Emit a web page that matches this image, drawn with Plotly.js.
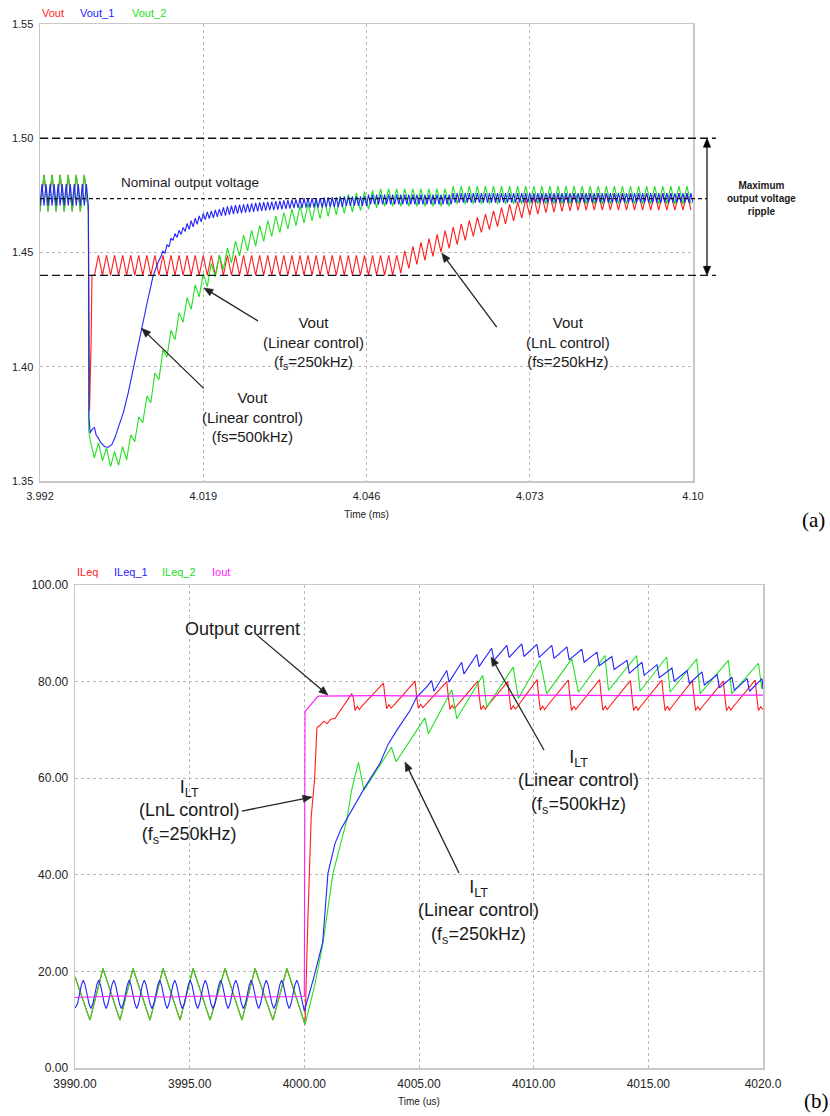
<!DOCTYPE html>
<html>
<head>
<meta charset="utf-8">
<script src="https://cdn.plot.ly/plotly-3.0.1.min.js"></script>
<style>
html,body{margin:0;padding:0;background:#ffffff;}
#chart{width:830px;height:1116px;}
</style>
</head>
<body>
<div id="chart"></div>
<script>
// ===================== (a) Output voltage (times in microseconds, axis shown in ms) =====================
const seriesTop = ['Vout', 'Vout_1', 'Vout_2'];
const xTicksTop = [3.992, 4.019, 4.046, 4.073, 4.10];
const xTickTextTop = ['3.992', '4.019', '4.046', '4.073', '4.10'];
const yTicksTop = [1.35, 1.40, 1.45, 1.50, 1.55];
const yTickTextTop = ['1.35', '1.40', '1.45', '1.50', '1.55'];
const vRippleMax = 1.50, vRippleMin = 1.44, vNominal = 1.4736;

// 250 kHz-control output before the load step (Vout_2; Vout lies underneath it)
const tPre250 = [3992.00,3992.67,3993.33,3994.00,3994.67,3995.33,3996.00,3996.67,3997.33,3998.00,3998.67,3999.33,4000.00];
const vPre250 = [1.468,1.484,1.468,1.484,1.468,1.484,1.468,1.484,1.468,1.484,1.468,1.484,1.468];

// switching instants after the step (shared by Vout and Vout_2)
const tSw = [4000.33,4001,4001.67,4002.33,4003,4003.67,4004.33,4005,4005.67,4006.33,4007,4007.67,4008.33,4009,4009.67,4010.33,4011,4011.67,4012.33,4013,4013.67,4014.33,4015,4015.67,4016.33,4017,4017.67,4018.33,4019,4019.67,
4020.33,4021,4021.67,4022.33,4023,4023.67,4024.33,4025,4025.67,4026.33,4027,4027.67,4028.33,4029,4029.67,4030.33,4031,4031.67,4032.33,4033,4033.67,4034.33,4035,4035.67,4036.33,4037,4037.67,4038.33,4039,4039.67,
4040.33,4041,4041.67,4042.33,4043,4043.67,4044.33,4045,4045.67,4046.33,4047,4047.67,4048.33,4049,4049.67,4050.33,4051,4051.67,4052.33,4053,4053.67,4054.33,4055,4055.67,4056.33,4057,4057.67,4058.33,4059,4059.67,
4060.33,4061,4061.67,4062.33,4063,4063.67,4064.33,4065,4065.67,4066.33,4067,4067.67,4068.33,4069,4069.67,4070.33,4071,4071.67,4072.33,4073,4073.67,4074.33,4075,4075.67,4076.33,4077,4077.67,4078.33,4079,4079.67,
4080.33,4081,4081.67,4082.33,4083,4083.67,4084.33,4085,4085.67,4086.33,4087,4087.67,4088.33,4089,4089.67,4090.33,4091,4091.67,4092.33,4093,4093.67,4094.33,4095,4095.67,4096.33,4097,4097.67,4098.33,4099,4099.67];

// Vout_2 (Linear control, fs=250kHz)
const tGrnStep = [4000.05];
const vGrnStep = [1.372];
const vGrnPost = [
1.3675,1.3601,1.3667,1.3588,1.3645,1.3563,1.3629,1.3569,1.3650,1.3592,
1.3702,1.3672,1.3781,1.3755,1.3872,1.3843,1.3973,1.3943,1.4073,1.4042,
1.4160,1.4118,1.4237,1.4195,1.4303,1.4251,1.4359,1.4306,1.4409,1.4351,
1.4452,1.4394,1.4490,1.4425,1.4520,1.4455,1.4550,1.4485,1.4576,1.4507,
1.4597,1.4528,1.4619,1.4549,1.4640,1.4571,1.4660,1.4587,1.4675,1.4603,
1.4690,1.4618,1.4705,1.4630,1.4714,1.4639,1.4724,1.4648,1.4733,1.4658,
1.4742,1.4665,1.4748,1.4671,1.4754,1.4677,1.4760,1.4683,1.4766,1.4689,
1.4772,1.4695,
1.4780,1.4702,1.4780,1.4702,1.4780,1.4702,1.4780,1.4702,1.4780,1.4702,
1.4780,1.4702,1.4780,1.4702,1.4780,1.4702,1.4780,1.4702,
1.4790,1.4712,1.4790,1.4712,1.4790,1.4712,1.4790,1.4712,1.4790,1.4712,
1.4790,1.4712,1.4790,1.4712,1.4790,1.4712,1.4790,1.4712,1.4790,1.4712,
1.4790,1.4712,1.4790,1.4712,1.4790,1.4712,1.4790,1.4712,1.4790,1.4712,
1.4790,1.4712,1.4790,1.4712,1.4790,1.4712,1.4790,1.4712,1.4790,1.4712,
1.4790,1.4712,1.4790,1.4712,1.4790,1.4712,1.4790,1.4712,1.4790,1.4712,
1.4790,1.4712,1.4790,1.4712,1.4790,1.4712,1.4790,1.4712,1.4790,1.4712];

// Vout (LnL control, fs=250kHz): step transient then ripple on tSw[1..]
const tRedStep = [4000.20,4000.35,4000.45,4000.60];
const vRedStep = [1.381,1.400,1.410,1.440];
const vRedPost = [
1.4400,1.4488,1.4400,1.4488,1.4400,1.4488,1.4400,1.4488,1.4400,1.4488,
1.4400,1.4488,1.4400,1.4488,1.4400,1.4488,1.4400,1.4488,1.4400,1.4488,
1.4400,1.4488,1.4400,1.4488,1.4400,1.4488,1.4400,1.4488,1.4400,1.4488,
1.4400,1.4488,1.4400,1.4488,1.4400,1.4488,1.4400,1.4488,1.4400,1.4488,
1.4400,1.4488,1.4400,1.4488,1.4400,1.4488,1.4400,1.4488,1.4400,1.4488,
1.4400,1.4488,1.4400,1.4488,1.4400,1.4488,1.4400,1.4488,1.4400,1.4488,
1.4400,1.4488,1.4400,1.4488,1.4400,1.4488,1.4400,1.4488,1.4400,1.4488,
1.4400,1.4488,1.4400,1.4488,1.4400,1.4488,
1.4410,1.4507,1.4430,1.4527,1.4448,1.4544,1.4466,1.4561,1.4483,1.4579,
1.4501,1.4596,1.4518,1.4611,1.4536,1.4625,1.4553,1.4640,1.4571,1.4654,
1.4588,1.4668,1.4600,1.4682,1.4613,1.4696,1.4625,1.4711,1.4638,1.4723,
1.4650,1.4734,1.4662,1.4743,1.4668,1.4749,1.4675,1.4753,1.4677,1.4755,
1.4680,1.4757,1.4682,1.4759,1.4684,
1.4760,1.4685,1.4760,1.4685,1.4760,1.4685,1.4760,1.4685,1.4760,1.4685,
1.4760,1.4685,1.4760,1.4685,1.4760,1.4685,1.4760,1.4685,1.4760,1.4685,
1.4760,1.4685,1.4760,1.4685,1.4760,1.4685,1.4760,1.4685];

// Vout_1 (Linear control, fs=500kHz)
const tPre500 = [3992,3992.33,3992.67,3993,3993.33,3993.67,3994,3994.33,3994.67,3995,3995.33,3995.67,3996,3996.33,3996.67,3997,3997.33,3997.67,3998,3998.33,3998.67,3999,3999.33,3999.67,4000];
const vPre500 = [1.4705,1.4800,1.4705,1.4800,1.4705,1.4800,1.4705,1.4800,1.4705,1.4800,1.4705,1.4800,1.4705,1.4800,1.4705,1.4800,1.4705,1.4800,1.4705,1.4800,1.4705,1.4800,1.4705,1.4800,1.4705];
const tBluStep = [4000.10,4000.30,4000.60,4001.00,4001.30,4001.60,4002.00,4002.70,4003.30,4003.90,4004.40,4004.90,4005.30,4005.80,4006.60,4007.70,4008.80,4009.80,4010.70,4011.50,4012.00];
const vBluStep = [1.3780,1.3710,1.3725,1.3735,1.3700,1.3690,1.3670,1.3650,1.3648,1.3660,1.3690,1.3730,1.3760,1.3800,1.3887,1.4030,1.4171,1.4290,1.4396,1.4455,1.4482];
const tBluPost = [
4012.33,4012.67,4013,4013.33,4013.67,4014,4014.33,4014.67,4015,4015.33,4015.67,4016,4016.33,4016.67,4017,4017.33,4017.67,4018,4018.33,4018.67,4019,4019.33,4019.67,4020,
4020.33,4020.67,4021,4021.33,4021.67,4022,4022.33,4022.67,4023,4023.33,4023.67,4024,4024.33,4024.67,4025,4025.33,4025.67,4026,4026.33,4026.67,4027,4027.33,4027.67,4028,
4028.33,4028.67,4029,4029.33,4029.67,4030,4030.33,4030.67,4031,4031.33,4031.67,4032,4032.33,4032.67,4033,4033.33,4033.67,4034,4034.33,4034.67,4035,4035.33,4035.67,4036,
4036.33,4036.67,4037,4037.33,4037.67,4038,4038.33,4038.67,4039,4039.33,4039.67,4040,4040.33,4040.67,4041,4041.33,4041.67,4042,4042.33,4042.67,4043,4043.33,4043.67,4044,
4044.33,4044.67,4045,4045.33,4045.67,4046,4046.33,4046.67,4047,4047.33,4047.67,4048,4048.33,4048.67,4049,4049.33,4049.67,4050,4050.33,4050.67,4051,4051.33,4051.67,4052,
4052.33,4052.67,4053,4053.33,4053.67,4054,4054.33,4054.67,4055,4055.33,4055.67,4056,4056.33,4056.67,4057,4057.33,4057.67,4058,4058.33,4058.67,4059,4059.33,4059.67,4060,
4060.33,4060.67,4061,4061.33,4061.67,4062,4062.33,4062.67,4063,4063.33,4063.67,4064,4064.33,4064.67,4065,4065.33,4065.67,4066,4066.33,4066.67,4067,4067.33,4067.67,4068,
4068.33,4068.67,4069,4069.33,4069.67,4070,4070.33,4070.67,4071,4071.33,4071.67,4072,4072.33,4072.67,4073,4073.33,4073.67,4074,4074.33,4074.67,4075,4075.33,4075.67,4076,
4076.33,4076.67,4077,4077.33,4077.67,4078,4078.33,4078.67,4079,4079.33,4079.67,4080,4080.33,4080.67,4081,4081.33,4081.67,4082,4082.33,4082.67,4083,4083.33,4083.67,4084,
4084.33,4084.67,4085,4085.33,4085.67,4086,4086.33,4086.67,4087,4087.33,4087.67,4088,4088.33,4088.67,4089,4089.33,4089.67,4090,4090.33,4090.67,4091,4091.33,4091.67,4092,
4092.33,4092.67,4093,4093.33,4093.67,4094,4094.33,4094.67,4095,4095.33,4095.67,4096,4096.33,4096.67,4097,4097.33,4097.67,4098,4098.33,4098.67,4099,4099.33,4099.67,4100];
const vBluPost = [
1.4506,1.4496,1.4534,1.4525,1.4563,1.4553,1.4583,1.4566,1.4597,1.4579,
1.4610,1.4592,1.4627,1.4601,1.4639,1.4612,1.4650,1.4623,1.4660,1.4634,
1.4671,1.4644,1.4678,1.4648,1.4682,1.4652,1.4686,1.4656,1.4690,1.4660,
1.4697,1.4661,1.4702,1.4666,1.4705,1.4668,1.4707,1.4670,1.4709,1.4672,
1.4711,1.4674,1.4713,1.4676,1.4715,1.4678,1.4717,1.4680,1.4719,1.4682,
1.4720,1.4683,1.4722,1.4685,1.4723,1.4686,1.4725,1.4688,1.4726,1.4689,
1.4728,1.4691,1.4729,1.4692,1.4731,1.4694,1.4732,1.4695,1.4736,
1.4694,
1.4738,1.4696,1.4738,1.4696,1.4738,1.4696,1.4738,1.4696,1.4738,1.4696,
1.4741,1.4699,1.4741,1.4699,1.4741,1.4699,1.4741,1.4699,1.4741,1.4699,
1.4746,1.4704,1.4746,1.4704,1.4746,1.4704,1.4746,1.4704,1.4746,1.4704,1.4746,1.4704,
1.4753,1.4711,1.4753,1.4711,1.4753,1.4711,1.4753,1.4711,1.4753,1.4711,
1.4753,1.4711,1.4753,1.4711,1.4753,1.4711,1.4753,1.4711,1.4753,1.4711,
1.4753,1.4711,1.4753,1.4711,1.4753,1.4711,1.4753,1.4711,1.4753,1.4711,
1.4753,1.4711,1.4753,1.4711,1.4753,1.4711,1.4753,1.4711,1.4753,1.4711,
1.4753,1.4711,
1.4760,1.4718,1.4760,1.4718,1.4760,1.4718,1.4760,1.4718,1.4760,1.4718,
1.4760,1.4718,1.4760,1.4718,1.4760,1.4718,1.4760,1.4718,1.4760,1.4718,
1.4760,1.4718,1.4760,1.4718,1.4760,1.4718,1.4760,1.4718,1.4760,1.4718,
1.4760,1.4718,1.4760,1.4718,1.4760,1.4718,1.4760,1.4718,1.4760,1.4718,
1.4760,1.4718,1.4760,1.4718,1.4760,1.4718,1.4760,1.4718,1.4760,1.4718,
1.4760,1.4718,1.4760,1.4718,1.4760,1.4718,1.4760,1.4718,1.4760,1.4718,
1.4760,1.4718,1.4760,1.4718,1.4760,1.4718,1.4760,1.4718,1.4760,1.4718,
1.4760,1.4718,1.4760,1.4718,1.4760,1.4718,1.4760,1.4718,1.4760,1.4718,
1.4760,1.4718,1.4760,1.4718,1.4760,1.4718,1.4760,1.4718,1.4760,1.4718,
1.4760,1.4718,1.4760,1.4718,1.4760,1.4718,1.4760,1.4718,1.4760,1.4718,
1.4760,1.4718,1.4760,1.4718,1.4760,1.4718,1.4760,1.4718,1.4760,1.4718,
1.4760,1.4718,1.4760,1.4718,1.4760,1.4718,1.4760,1.4718,1.4760,1.4718];

// ===================== (b) Inductor / output current (times in microseconds) =====================
const seriesBot = ['ILeq', 'ILeq_1', 'ILeq_2', 'Iout'];
const xTicksBot = [3990, 3995, 4000, 4005, 4010, 4015, 4020];
const xTickTextBot = ['3990.00', '3995.00', '4000.00', '4005.00', '4010.00', '4015.00', '4020.0'];
const yTicksBot = [0, 20, 40, 60, 80, 100];
const yTickTextBot = ['0.00', '20.00', '40.00', '60.00', '80.00', '100.00'];

// 250 kHz inductor current before the step (ILeq_2; ILeq lies underneath it)
const tPreB250 = [3990.00,3990.65,3991.22,3991.96,3992.53,3993.27,3993.84,3994.58,3995.15,3995.89,3996.54,3997.28,3997.85,3998.63,3999.24,4000.03];
const iPreB250 = [18.9,9.9,20.6,9.9,20.6,9.9,20.6,9.9,20.6,9.9,20.6,9.9,20.6,9.9,20.6,9.0];

// ILeq_2 (Linear control, fs=250kHz)
const tGrnB = [4000.45,4000.80,4001.25,4001.85,4002.06,4002.36,4002.60,4003.80,4004.00,4005.26,4005.41,4006.43,4006.65,4007.78,4007.95,4009.11,4009.33,4010.28,4010.57,4011.66,4011.95,4013.11,4013.26,4014.49,4014.64,4015.80,4015.95,4017.11,4017.26,4018.49,4018.64,4019.80,4019.95,4020.00];
const iGrnB = [17.0,25.5,40.3,51.3,57.5,63.3,57.5,66.4,63.4,72.5,69.2,78.3,72.3,81.3,74.7,83.0,76.5,84.4,77.5,84.7,77.8,85.4,78.2,85.4,78.0,85.1,77.8,84.7,77.5,84.4,77.5,83.8,78.5,78.7];

// ILeq_1 (Linear control, fs=500kHz)
const tBluBPre = [3990.00,
3990.11,3990.28,3990.36,3990.44,3990.61,3990.69,
3990.78,3990.95,3991.03,3991.11,3991.28,3991.36,
3991.44,3991.61,3991.69,3991.77,3991.94,3992.02,
3992.11,3992.28,3992.36,3992.44,3992.61,3992.69,
3992.77,3992.94,3993.02,3993.10,3993.27,3993.35,
3993.44,3993.61,3993.69,3993.77,3993.94,3994.02,
3994.10,3994.27,3994.35,3994.43,3994.60,3994.68,
3994.77,3994.94,3995.02,3995.10,3995.27,3995.35,
3995.43,3995.60,3995.68,3995.76,3995.93,3996.01,
3996.10,3996.27,3996.35,3996.43,3996.60,3996.68,
3996.76,3996.93,3997.01,3997.09,3997.26,3997.34,
3997.43,3997.60,3997.68,3997.76,3997.93,3998.01,
3998.09,3998.26,3998.34,3998.42,3998.59,3998.67,
3998.76,3998.93,3999.01,3999.09,3999.26,3999.34,
3999.42,3999.59,3999.67,3999.75,3999.92,4000.00];
const iBluBPre = [12.4,
13.3,17.2,18.2,17.2,13.3,12.3,
13.3,17.2,18.2,17.2,13.3,12.3,
13.3,17.2,18.2,17.2,13.3,12.3,
13.3,17.2,18.2,17.2,13.3,12.3,
13.3,17.2,18.2,17.2,13.3,12.3,
13.3,17.2,18.2,17.2,13.3,12.3,
13.3,17.2,18.2,17.2,13.3,12.3,
13.3,17.2,18.2,17.2,13.3,12.3,
13.3,17.2,18.2,17.2,13.3,12.3,
13.3,17.2,18.2,17.2,13.3,12.3,
13.3,17.2,18.2,17.2,13.3,12.3,
13.3,17.2,18.2,17.2,13.3,12.3,
13.3,17.2,18.2,17.2,13.3,12.3,
13.3,17.2,18.2,17.2,13.3,12.3,
13.3,17.2,18.2,17.2,13.3,11.8];
const tBluBStep = [4000.40,4000.80,4001.03,4001.34,4001.60,4002.08,4002.65,4003.30,4003.65,4004.03,4004.61,4004.90,4005.34];
const iBluBStep = [18.5,26.0,40.3,46.5,49.5,53.4,58.2,63.1,67.0,69.9,74.0,76.8,78.9];
const tBluBTeeth = [4005.55,4005.65,4006.21,4006.31,4006.86,4006.96,4007.52,4007.62,4008.17,4008.27,4008.83,4008.93,4009.48,4009.58,4010.14,4010.24,4010.79,4010.89,4011.45,4011.55,4012.10,4012.20,4012.76,4012.86,4013.41,4013.51,4014.07,4014.17,4014.72,4014.82,4015.38,4015.48,4016.03,4016.13,4016.69,4016.79,4017.34,4017.44,4018.00,4018.10,4018.65,4018.75,4019.31,4019.41,4019.96,4020.00];
const iBluBTeeth = [80.2,78.0,82.3,79.9,84.0,81.6,85.6,83.1,86.9,84.4,87.5,85.0,87.8,85.2,87.7,85.0,87.5,84.8,87.2,84.5,86.7,84.0,86.1,83.3,85.2,82.5,84.4,81.7,84.0,81.3,83.5,80.8,82.8,80.1,82.3,79.6,82.0,79.3,81.4,78.7,80.9,78.2,80.6,78.0,80.6,78.5];

// ILeq (LnL control, fs=250kHz)
const tRedBStep = [4000.15,4000.30,4000.45,4000.55,4000.70,4000.85,4001.00,4001.15,4001.34];
const iRedBStep = [30.0,52.0,60.0,70.5,71.0,71.8,71.3,72.2,72.4];
const tRedBCyc = [
4002.07,4002.14,4002.21,4002.31,4002.40,4002.52,
4003.45,4003.52,4003.59,4003.69,4003.78,4003.90,
4004.83,4004.90,4004.97,4005.07,4005.16,4005.28,
4006.21,4006.28,4006.35,4006.45,4006.54,4006.66,
4007.56,4007.63,4007.70,4007.80,4007.89,4008.01,
4008.87,4008.94,4009.01,4009.11,4009.20,4009.32,
4010.15,4010.22,4010.29,4010.39,4010.48,4010.60,
4011.51,4011.58,4011.65,4011.75,4011.84,4011.96,
4012.88,4012.95,4013.02,4013.12,4013.21,4013.33,
4014.22,4014.29,4014.36,4014.46,4014.55,4014.67,
4015.59,4015.66,4015.73,4015.83,4015.92,4016.04,
4016.92,4016.99,4017.06,4017.16,4017.25,4017.37,
4018.27,4018.34,4018.41,4018.51,4018.60,4018.72,
4019.66,4019.73,4019.80,4019.90,4020.00];
const iRedBCyc = [
77.5,76.6,74.0,74.9,74.2,75.0,
79.7,76.8,74.4,75.2,74.5,75.1,
80.1,76.8,74.5,75.3,74.6,75.2,
80.0,76.8,74.3,75.1,74.4,75.1,
80.1,76.8,74.2,75.0,74.3,75.1,
80.0,76.8,74.2,75.0,74.3,75.0,
80.4,76.9,74.1,74.9,74.2,75.0,
80.3,76.8,74.0,74.9,74.2,75.0,
80.4,76.8,74.1,74.9,74.2,75.0,
80.2,76.8,74.0,74.9,74.1,74.9,
80.3,76.8,74.0,74.9,74.1,74.9,
80.2,76.8,74.0,74.8,74.1,74.9,
80.1,76.8,74.0,74.8,74.1,74.9,
80.3,76.8,74.0,74.8,74.2];

// Iout (load current step)
const tOut = [3990.00,3992.00,3994.00,3996.00,3998.00,4000.00,4000.03,4000.60,4003.00,4006.00,4010.00,4014.00,4020.00];
const iOut = [14.6,14.9,14.7,14.9,14.7,14.8,73.8,77.0,77.1,77.0,77.2,77.1,77.2];

// callout arrow targets (data coordinates) and tail offsets (pixels)
const arrowsTop = [
  {t: 4.01912, v: 1.4345, dx: 54, dy: 33},
  {t: 4.00882, v: 1.4168, dx: 62, dy: 60},
  {t: 4.05844, v: 1.4497, dx: 55, dy: 74}
];
const arrowsBot = [
  {t: 4001.03, v: 77.2, dx: -71, dy: -60},
  {t: 4000.33, v: 56.1, dx: -70, dy: 14},
  {t: 4008.14, v: 85.1, dx: 53, dy: 93},
  {t: 4004.39, v: 63.35, dx: 54, dy: 111}
];

// ===================== styling / layout =====================
const FONT = 'Liberation Sans, Arial, Helvetica, sans-serif';
const SERIF = 'Liberation Serif, Times New Roman, serif';
const RED = '#ff1c1c', BLUE = '#2323ff', GREEN = '#22e022', MAG = '#ff1cff';
const W = 830, H = 1116;
const PX = x => x / W, PY = y => 1 - y / H;
const TOP = {x0: 40, x1: 693, y0: 24, y1: 481, xmin: 3.992, xmax: 4.10, ymin: 1.35, ymax: 1.55};
const BOT = {x0: 75, x1: 763, y0: 585, y1: 1068, xmin: 3990, xmax: 4020, ymin: 0, ymax: 100};
const ms = a => a.map(t => t / 1000);
const xPix = (P, t) => P.x0 + (t - P.xmin) / (P.xmax - P.xmin) * (P.x1 - P.x0);
const yPix = (P, v) => P.y0 + (P.ymax - v) / (P.ymax - P.ymin) * (P.y1 - P.y0);

const ln = c => ({color: c, width: 1.1});
const traces = [
  {name: seriesTop[0], x: ms([...tPre250, ...tRedStep, ...tSw.slice(1)]), y: [...vPre250, ...vRedStep, ...vRedPost], xaxis: 'x', yaxis: 'y', mode: 'lines', line: ln(RED)},
  {name: seriesTop[2], x: ms([...tPre250, ...tGrnStep, ...tSw]), y: [...vPre250, ...vGrnStep, ...vGrnPost], xaxis: 'x', yaxis: 'y', mode: 'lines', line: ln(GREEN)},
  {name: seriesTop[1], x: ms([...tPre500, ...tBluStep, ...tBluPost]), y: [...vPre500, ...vBluStep, ...vBluPost], xaxis: 'x', yaxis: 'y', mode: 'lines', line: ln(BLUE)},
  {name: seriesBot[0], x: [...tPreB250, ...tRedBStep, ...tRedBCyc], y: [...iPreB250, ...iRedBStep, ...iRedBCyc], xaxis: 'x2', yaxis: 'y2', mode: 'lines', line: ln(RED)},
  {name: seriesBot[2], x: [...tPreB250, ...tGrnB], y: [...iPreB250, ...iGrnB], xaxis: 'x2', yaxis: 'y2', mode: 'lines', line: ln(GREEN)},
  {name: seriesBot[1], x: [...tBluBPre, ...tBluBStep, ...tBluBTeeth], y: [...iBluBPre, ...iBluBStep, ...iBluBTeeth], xaxis: 'x2', yaxis: 'y2', mode: 'lines', line: ln(BLUE)},
  {name: seriesBot[3], x: tOut, y: iOut, xaxis: 'x2', yaxis: 'y2', mode: 'lines', line: ln(MAG)}
];

function axis(extra) {
  return Object.assign({
    showgrid: true, gridcolor: '#b8b8b8', griddash: 'dot', gridwidth: 1,
    zeroline: false, showline: true, linecolor: '#c8c8c8', linewidth: 1.5, mirror: true,
    ticks: 'outside', ticklen: 4, tickcolor: 'rgba(0,0,0,0)',
    tickmode: 'array', automargin: false, fixedrange: true,
    tickfont: {family: FONT, size: 11, color: '#222'}
  }, extra);
}

function label(text, x, y, size, opts) {
  return Object.assign({xref: 'paper', yref: 'paper', x: PX(x), y: PY(y), text: text, showarrow: false,
    xanchor: 'center', yanchor: 'middle', font: {family: FONT, size: size, color: '#1a1a1a'}}, opts || {});
}
function legendLabel(text, x, y, color) {
  return label(text, x, y, 11, {xanchor: 'left', font: {family: FONT, size: 11, color: color}});
}

// arrow drawn as a line plus a filled head (pixel positions converted to paper units)
function arrowShapes(x1, y1, x2, y2, color, width) {
  const dx = x2 - x1, dy = y2 - y1, L = Math.hypot(dx, dy), ux = dx / L, uy = dy / L;
  const hl = 9, hw = 3.6;
  const bx = x2 - ux * hl, by = y2 - uy * hl;
  const p1x = bx - uy * hw, p1y = by + ux * hw, p2x = bx + uy * hw, p2y = by - ux * hw;
  return [
    {type: 'line', xref: 'paper', yref: 'paper', x0: PX(x1), y0: PY(y1), x1: PX(bx), y1: PY(by), line: {color: color, width: width}},
    {type: 'path', xref: 'paper', yref: 'paper', fillcolor: color, line: {color: color, width: 0.6},
      path: 'M ' + PX(x2) + ' ' + PY(y2) + ' L ' + PX(p1x) + ' ' + PY(p1y) + ' L ' + PX(p2x) + ' ' + PY(p2y) + ' Z'}
  ];
}

const annotations = [
  legendLabel(seriesTop[0], 40, 13, RED),
  legendLabel(seriesTop[1], 78, 13, BLUE),
  legendLabel(seriesTop[2], 130, 13, GREEN),
  legendLabel(seriesBot[0], 75, 572, RED),
  legendLabel(seriesBot[1], 112, 572, BLUE),
  legendLabel(seriesBot[2], 160, 572, GREEN),
  legendLabel(seriesBot[3], 210, 572, MAG),
  label('Nominal output voltage', 190, 183, 13.5),
  label('<b>Maximum</b><br><b>output voltage</b><br><b>ripple</b>', 761, 198, 10),
  label('Vout<br>(Linear control)<br>(f<sub>s</sub>=250kHz)', 313, 343, 15),
  label('Vout<br>(Linear control)<br>(fs=500kHz)', 252, 417, 15),
  label('Vout<br>(LnL control)<br>(fs=250kHz)', 568, 342, 15),
  label('Output current', 242, 629, 18),
  label('I<sub>LT</sub><br>(LnL control)<br>(f<sub>s</sub>=250kHz)', 189, 812, 18),
  label('I<sub>LT</sub><br>(Linear control)<br>(f<sub>s</sub>=500kHz)', 578, 782, 18),
  label('I<sub>LT</sub><br>(Linear control)<br>(f<sub>s</sub>=250kHz)', 478, 912, 18),
  label('(a)', 813, 520, 21, {font: {family: SERIF, size: 21, color: '#000'}}),
  label('(b)', 816, 1101, 21, {font: {family: SERIF, size: 21, color: '#000'}})
];

const hLine = (v, x1, dash, width) => ({type: 'line', xref: 'paper', yref: 'paper',
  x0: PX(TOP.x0), x1: PX(x1), y0: PY(yPix(TOP, v)), y1: PY(yPix(TOP, v)),
  line: {color: '#111', width: width, dash: dash}});

const shapes = [
  hLine(vRippleMax, 716, '8px,4px', 1.4),
  hLine(vRippleMin, 716, '8px,4px', 1.4),
  hLine(vNominal, 707, '4px,3px', 1.2)
];
arrowsTop.forEach(a => {
  const hx = xPix(TOP, a.t), hy = yPix(TOP, a.v);
  shapes.push(...arrowShapes(hx + a.dx, hy + a.dy, hx, hy, '#222', 1.3));
});
arrowsBot.forEach(a => {
  const hx = xPix(BOT, a.t), hy = yPix(BOT, a.v);
  shapes.push(...arrowShapes(hx + a.dx, hy + a.dy, hx, hy, '#222', 1.3));
});
// double-headed arrow marking the maximum ripple band
const yHi = yPix(TOP, vRippleMax), yLo = yPix(TOP, vRippleMin), yMid = (yHi + yLo) / 2;
shapes.push(...arrowShapes(707, yMid, 707, yHi, '#000', 1.2));
shapes.push(...arrowShapes(707, yMid, 707, yLo, '#000', 1.2));

const layout = {
  width: W, height: H,
  margin: {l: 0, r: 0, t: 0, b: 0, pad: 0},
  paper_bgcolor: '#ffffff', plot_bgcolor: '#ffffff',
  showlegend: false, hovermode: false,
  font: {family: FONT, color: '#222'},
  xaxis: axis({anchor: 'y', domain: [PX(TOP.x0), PX(TOP.x1)], range: [TOP.xmin, TOP.xmax],
    tickvals: xTicksTop, ticktext: xTickTextTop,
    title: {text: 'Time (ms)', font: {family: FONT, size: 10, color: '#222'}, standoff: 10}}),
  yaxis: axis({anchor: 'x', domain: [PY(TOP.y1), PY(TOP.y0)], range: [TOP.ymin, TOP.ymax],
    tickvals: yTicksTop, ticktext: yTickTextTop, ticklen: 3}),
  xaxis2: axis({anchor: 'y2', domain: [PX(BOT.x0), PX(BOT.x1)], range: [BOT.xmin, BOT.xmax],
    tickvals: xTicksBot, ticktext: xTickTextBot, tickfont: {family: FONT, size: 12, color: '#222'},
    title: {text: 'Time (us)', font: {family: FONT, size: 10, color: '#222'}, standoff: 8}}),
  yaxis2: axis({anchor: 'x2', domain: [PY(BOT.y1), PY(BOT.y0)], range: [BOT.ymin, BOT.ymax],
    tickvals: yTicksBot, ticktext: yTickTextBot, ticklen: 3, tickfont: {family: FONT, size: 12, color: '#222'}}),
  shapes: shapes,
  annotations: annotations
};

Plotly.newPlot('chart', traces, layout, {staticPlot: true, displayModeBar: false});
</script>
</body>
</html>
